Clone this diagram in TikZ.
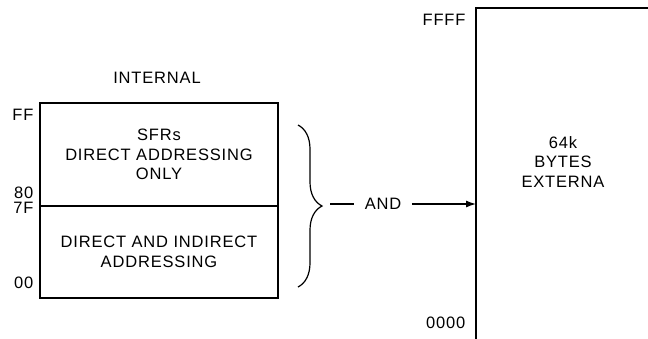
\documentclass[tikz,border=0pt]{standalone}
\usepackage{fontspec}
\setmainfont{Liberation Sans}
\newfontfamily\diagfont[LetterSpace=5]{Liberation Sans}
\usetikzlibrary{arrows.meta,decorations.pathreplacing}

\begin{document}
\begin{tikzpicture}[x=1pt,y=-1pt,line width=1.2pt,
    lbl/.style={font=\diagfont\fontsize{16.5}{19.5}\selectfont,inner sep=0pt},
    memblock/.style={draw,rectangle,minimum width=238pt,align=center,
      font=\diagfont\fontsize{16.5}{19.5}\selectfont}]
      \useasboundingbox (0,0) rectangle (648,338);
      \node[memblock,minimum height=103pt] (sfr) at (159,154.5) {SFRs\\DIRECT ADDRESSING\\ONLY};
      \node[memblock,minimum height=92pt] (dir) at (159,252) {DIRECT AND INDIRECT\\ADDRESSING};
      \node[lbl] (int) at (157,78) {INTERNAL};
      \node[lbl,anchor=east] (ff) at (34,115) {FF}; \node[lbl,anchor=east] (h80) at (34,193) {80};
      \node[lbl,anchor=east] (h7f) at (34,208) {7F}; \node[lbl,anchor=east] (h00) at (34,283) {00};
      \draw[decorate,decoration={brace,amplitude=24pt,raise=0pt}] (298,125) -- (298,287);
      \coordinate (tip) at (330,204);
      \node[lbl,inner xsep=10pt] (and) at (383,204) {AND};
      \coordinate (ext) at (476,204);
      \draw (476,345) |- (655,8);
      \node[lbl,anchor=east] (top) at (466,20) {FFFF};
      \node[lbl,anchor=east] (bot) at (466,323) {0000};
      \node[lbl,align=center] (bytes) at (563,162) {64k\\BYTES\\EXTERNA};
      \draw (tip) -- (and.west);
      \draw[-{Latex[length=10pt,width=7pt]}] (and.east) -- (ext);
    \end{tikzpicture}
\end{document}
